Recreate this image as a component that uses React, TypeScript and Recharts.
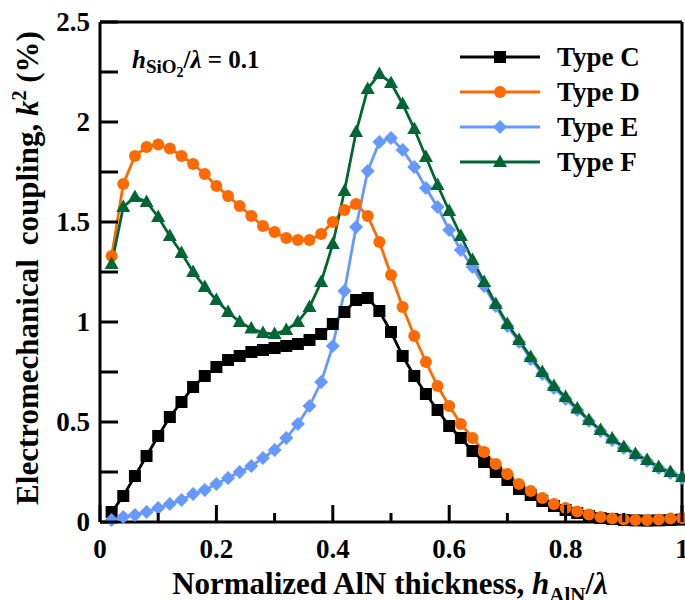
import { LineChart, Line, XAxis, YAxis, ReferenceLine, Customized } from 'recharts';

// normalized AlN thickness h_AlN / lambda
const thickness = [
  0.02, 0.04, 0.06, 0.08, 0.1, 0.12, 0.14, 0.16, 0.18, 0.2,
  0.22, 0.24, 0.26, 0.28, 0.3, 0.32, 0.34, 0.36, 0.38, 0.4,
  0.42, 0.44, 0.46, 0.48, 0.5, 0.52, 0.54, 0.56, 0.58, 0.6,
  0.62, 0.64, 0.66, 0.68, 0.7, 0.72, 0.74, 0.76, 0.78, 0.8,
  0.82, 0.84, 0.86, 0.88, 0.9, 0.92, 0.94, 0.96, 0.98, 1.0,
];

// k^2 (%) per type
const typeC = [
  0.05, 0.13, 0.23, 0.33, 0.43, 0.525, 0.6, 0.675, 0.73, 0.775,
  0.81, 0.83, 0.85, 0.86, 0.87, 0.88, 0.89, 0.91, 0.94, 0.99,
  1.05, 1.11, 1.12, 1.055, 0.95, 0.83, 0.73, 0.64, 0.56, 0.48,
  0.42, 0.355, 0.3, 0.25, 0.21, 0.165, 0.135, 0.105, 0.08, 0.06,
  0.045, 0.03, 0.02, 0.015, 0.01, 0.008, 0.007, 0.008, 0.01, 0.012,
];
const typeD = [
  1.33, 1.69, 1.83, 1.875, 1.887, 1.867, 1.83, 1.79, 1.74, 1.68,
  1.63, 1.58, 1.53, 1.48, 1.45, 1.42, 1.41, 1.41, 1.44, 1.5,
  1.56, 1.59, 1.53, 1.4, 1.235, 1.075, 0.93, 0.8, 0.68, 0.58,
  0.49, 0.42, 0.35, 0.29, 0.24, 0.19, 0.155, 0.12, 0.09, 0.07,
  0.053, 0.038, 0.025, 0.017, 0.012, 0.01, 0.01, 0.012, 0.017, 0.02,
];
const typeE = [
  0.01, 0.025, 0.035, 0.05, 0.07, 0.09, 0.11, 0.14, 0.16, 0.19,
  0.22, 0.25, 0.28, 0.32, 0.36, 0.42, 0.49, 0.58, 0.7, 0.88,
  1.155, 1.475, 1.755, 1.9, 1.92, 1.86, 1.775, 1.67, 1.575, 1.46,
  1.36, 1.275, 1.18, 1.08, 0.98, 0.9, 0.815, 0.74, 0.67, 0.615,
  0.56, 0.505, 0.455, 0.41, 0.37, 0.335, 0.305, 0.27, 0.245, 0.22,
];
const typeF = [
  1.29, 1.575, 1.625, 1.6, 1.525, 1.43, 1.345, 1.25, 1.175, 1.11,
  1.05, 1.0, 0.967, 0.945, 0.94, 0.96, 1.0, 1.075, 1.2, 1.39,
  1.655, 1.95, 2.165, 2.24, 2.195, 2.09, 1.965, 1.825, 1.685, 1.555,
  1.43, 1.31, 1.2, 1.09, 0.99, 0.91, 0.825, 0.75, 0.68, 0.625,
  0.567, 0.51, 0.46, 0.417, 0.375, 0.34, 0.31, 0.275, 0.25, 0.225,
];

const xTicks = [0, 0.1, 0.2, 0.3, 0.4, 0.5, 0.6, 0.7, 0.8, 0.9, 1];
const yTicks = [0, 0.25, 0.5, 0.75, 1, 1.25, 1.5, 1.75, 2, 2.25, 2.5];
const seriesNames = ['Type C', 'Type D', 'Type E', 'Type F'];

const data = thickness.map((x, i) => ({
  x,
  c: typeC[i],
  d: typeD[i],
  e: typeE[i],
  f: typeF[i],
}));

const FONT = '"Liberation Serif", "Times New Roman", serif';
const W = 685;
const H = 600;
const LEFT = 100;
const BOTTOM_H = 78;
const AXIS_Y = H - BOTTOM_H;

const COLORS = ['#000000', '#ff6a00', '#6699ff', '#006633'];
const SHAPES = ['square', 'circle', 'diamond', 'triangle'];

function Marker({ shape, cx, cy, color }: { shape: string; cx: number; cy: number; color: string }) {
  if (shape === 'square') return <rect x={cx - 6} y={cy - 6} width={12} height={12} fill={color} />;
  if (shape === 'circle') return <circle cx={cx} cy={cy} r={6} fill={color} />;
  if (shape === 'diamond')
    return <polygon points={`${cx},${cy - 7} ${cx + 7},${cy} ${cx},${cy + 7} ${cx - 7},${cy}`} fill={color} />;
  return <polygon points={`${cx},${cy - 7.5} ${cx + 7},${cy + 5} ${cx - 7},${cy + 5}`} fill={color} />;
}

const makeDot = (i: number) => (props: any) => {
  const { cx, cy, index } = props;
  if (cx == null || cy == null) return <g key={`${i}-${index}`} />;
  return (
    <g key={`${i}-${index}`}>
      <Marker shape={SHAPES[i]} cx={cx} cy={cy} color={COLORS[i]} />
    </g>
  );
};

function XTick(props: any) {
  const { payload } = props;
  const v = payload.value;
  const x = payload.coordinate;
  const major = Math.round(v * 10) % 2 === 0;
  return (
    <g>
      <line x1={x} x2={x} y1={AXIS_Y} y2={AXIS_Y - (major ? 17 : 9)} stroke="#000" strokeWidth={3} />
      {major && (
        <text x={x} y={AXIS_Y + 36} textAnchor="middle" fontSize={27} fontWeight="bold" fontFamily={FONT} fill="#000">
          {v}
        </text>
      )}
    </g>
  );
}

function YTick(props: any) {
  const { payload, y } = props;
  const v = payload.value;
  const labeled = Math.round(v * 100) % 50 === 0;
  return (
    <g>
      <line x1={LEFT} x2={LEFT + 18} y1={y} y2={y} stroke="#000" strokeWidth={3} />
      {labeled && (
        <text x={LEFT - 10} y={y + 9} textAnchor="end" fontSize={27} fontWeight="bold" fontFamily={FONT} fill="#000">
          {v}
        </text>
      )}
    </g>
  );
}

function Decorations() {
  return (
    <g fontFamily={FONT} fontWeight="bold" fill="#000">
      {/* y axis title */}
      <text x={38} y={268} textAnchor="middle" fontSize={31} transform="rotate(-90, 38, 268)">
        Electromechanical<tspan dx={14}>coupling, </tspan>
        <tspan fontStyle="italic">k</tspan>
        <tspan fontSize={20} dy={-12}>2</tspan>
        <tspan dy={12}> (%)</tspan>
      </text>
      {/* x axis title */}
      <text x={390} y={594} textAnchor="middle" fontSize={31}>
        Normalized AlN thickness, <tspan fontStyle="italic">h</tspan>
        <tspan fontSize={21} dy={8}>AlN</tspan>
        <tspan dy={-8}>/</tspan>
        <tspan fontStyle="italic">λ</tspan>
      </text>
      {/* annotation */}
      <text x={132} y={68} fontSize={25}>
        <tspan fontStyle="italic">h</tspan>
        <tspan fontSize={19} dy={5}>SiO</tspan>
        <tspan fontSize={14} dy={4}>2</tspan>
        <tspan dy={-9}>/</tspan>
        <tspan fontStyle="italic">λ</tspan> = 0.1
      </text>
      {/* legend */}
      {seriesNames.map((name, i) => {
        const cy = 57 + 35 * i;
        return (
          <g key={name}>
            <line x1={460} x2={540} y1={cy} y2={cy} stroke={COLORS[i]} strokeWidth={3} />
            <Marker shape={SHAPES[i]} cx={500} cy={cy} color={COLORS[i]} />
            <text x={557} y={cy + 9} fontSize={27}>
              {name}
            </text>
          </g>
        );
      })}
    </g>
  );
}

export default function App() {
  const keys = ['c', 'd', 'e', 'f'];
  return (
    <div style={{ position: 'absolute', left: 0, top: 0, background: '#fff' }}>
      <LineChart width={W} height={H} data={data} margin={{ top: 22, right: 3, bottom: 0, left: 0 }}>
        <XAxis
          dataKey="x"
          type="number"
          domain={[0, 1]}
          ticks={xTicks}
          height={BOTTOM_H}
          tickLine={false}
          axisLine={{ stroke: '#000', strokeWidth: 3 }}
          tick={XTick}
          interval={0}
        />
        <YAxis
          type="number"
          domain={[0, 2.5]}
          ticks={yTicks}
          width={LEFT}
          tickLine={false}
          axisLine={{ stroke: '#000', strokeWidth: 3 }}
          tick={YTick}
          interval={0}
        />
        <ReferenceLine y={2.5} stroke="#000" strokeWidth={3} />
        <ReferenceLine x={1} stroke="#000" strokeWidth={3} />
        {keys.map((k, i) => (
          <Line
            key={k}
            dataKey={k}
            name={seriesNames[i]}
            stroke={COLORS[i]}
            strokeWidth={2.8}
            dot={makeDot(i)}
            activeDot={false}
            isAnimationActive={false}
          />
        ))}
        <Customized component={Decorations} />
      </LineChart>
    </div>
  );
}
